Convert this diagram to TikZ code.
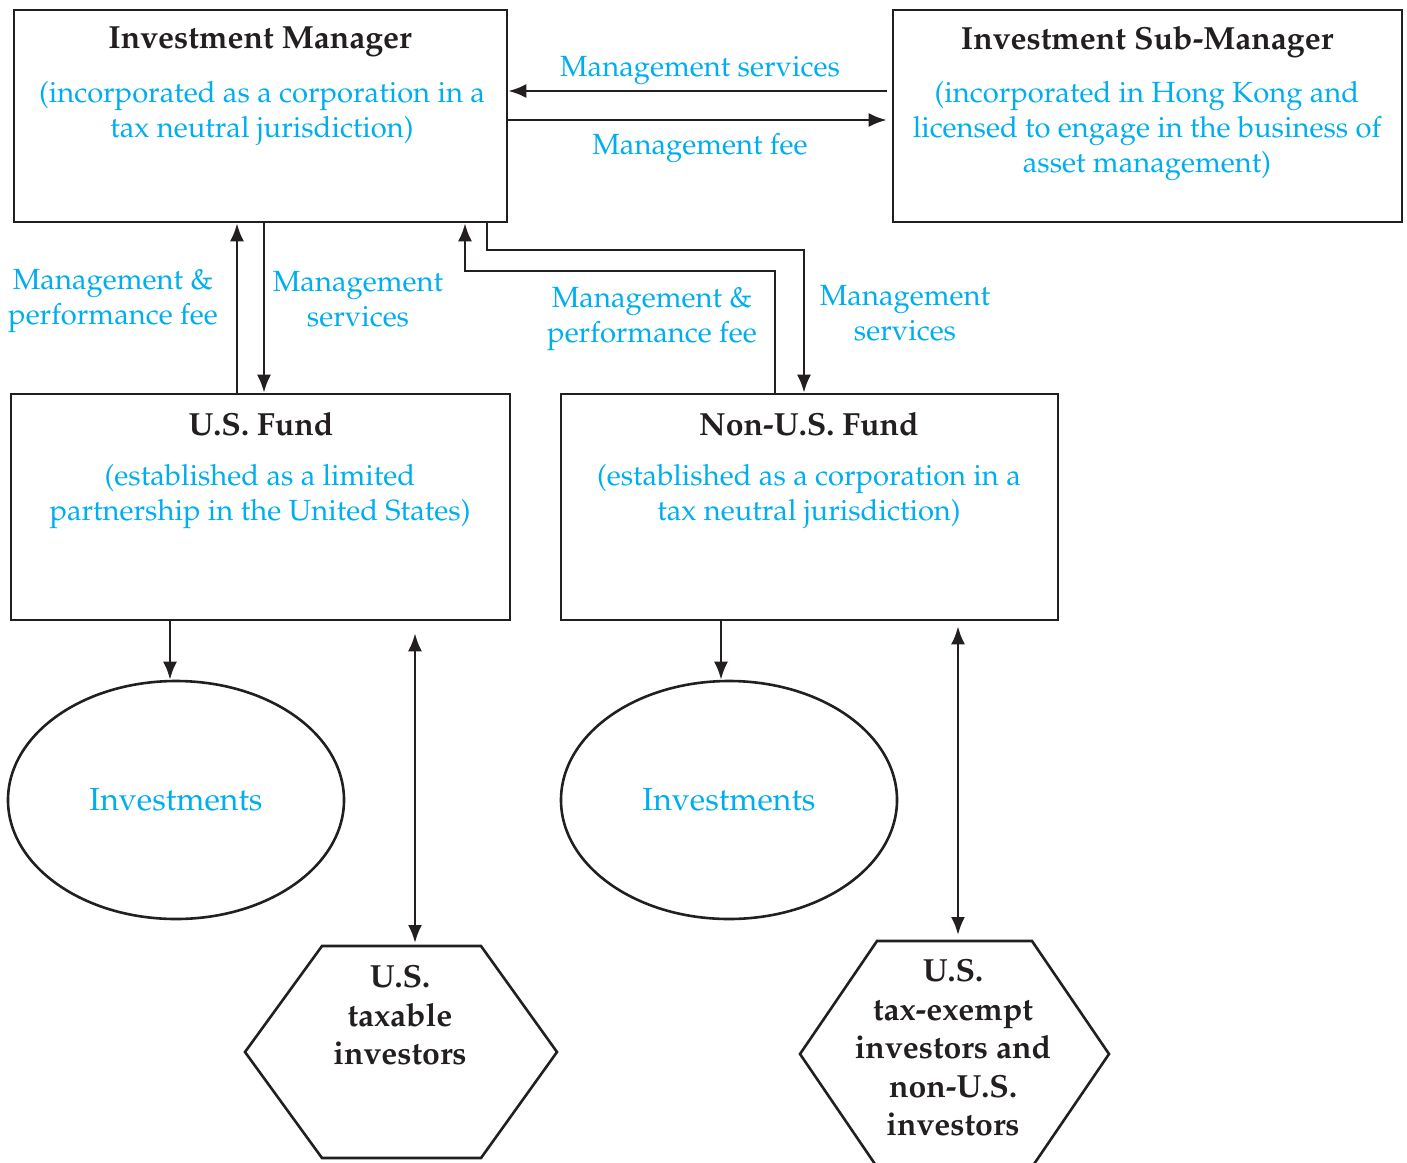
\documentclass[tikz,border=0pt]{standalone}
\usepackage[T1]{fontenc}
\usepackage{mathpazo}
\usetikzlibrary{arrows.meta,shapes.geometric}
\definecolor{lc}{HTML}{231F20}
\definecolor{bl}{HTML}{00AEEF}
\begin{document}
\begin{tikzpicture}[x=0.5pt,y=-0.5pt,
  box/.style={draw=lc,line width=1.3pt,inner sep=0pt,rectangle},
  oval/.style={draw=lc,line width=1.3pt,ellipse,inner sep=0pt,minimum width=168pt,minimum height=119pt,text=bl,font=\fontsize{16}{19}\selectfont},
  conn/.style={draw=lc,line width=1.3pt},
  arr/.style={conn,-{Latex[length=9pt,width=7pt]}},
  dbl/.style={conn,{Latex[length=9pt,width=7pt]}-{Latex[length=9pt,width=7pt]}},
  ttl/.style={font=\fontsize{16}{19}\selectfont\bfseries,text=lc,inner sep=0pt},
  lbl/.style={text=bl,align=center,font=\fontsize{14.6}{17.5}\selectfont,inner sep=0pt},
  hexl/.style={text=lc,align=center,font=\fontsize{16}{19.25}\selectfont\bfseries,inner sep=0pt}]
\useasboundingbox (0,0) rectangle (1407,1162);
\clip (0,0) rectangle (1407,1162);
% boxes
\node[box,minimum width=246.5pt,minimum height=106pt] (im) at (260.5,116) {};
\node[box,minimum width=254.5pt,minimum height=106pt] (ism) at (1147.5,116) {};
\node[box,minimum width=249.5pt,minimum height=113pt] (usf) at (260.5,507) {};
\node[box,minimum width=248.5pt,minimum height=113pt] (nusf) at (809.5,507) {};
% titles and descriptions
\node[ttl] (imt) at (260,42) {Investment Manager};
\node[lbl] (imd) at (262,113.5) {(incorporated as a corporation in a\\tax neutral jurisdiction)};
\node[ttl] (ismt) at (1147,42) {Investment Sub-Manager};
\node[lbl] (ismd) at (1147,131) {(incorporated in Hong Kong and\\licensed to engage in the business of\\asset management)};
\node[ttl] (usft) at (261,424) {U.S. Fund};
\node[lbl] (usfd) at (260,496.5) {(established as a limited\\partnership in the United States)};
\node[ttl] (nusft) at (809,424) {Non-U.S. Fund};
\node[lbl] (nusfd) at (809,496.5) {(established as a corporation in a\\tax neutral jurisdiction)};
% ellipses
\node[oval] (e1) at (176,800) {Investments};
\node[oval] (e2) at (729,800) {Investments};
% hexagons
\draw[conn,line join=miter] (322,946) -- (481,946) -- (557,1052) -- (481,1158) -- (322,1158) -- (245,1052) -- cycle;
\coordinate (h1t) at (401,946);
\node[hexl] (h1) at (400,1015) {U.S.\\taxable\\investors};
\draw[conn,line join=miter] (877,941) -- (1032,941) -- (1109,1054) -- (1032,1167) -- (877,1167) -- (800,1054) -- cycle;
\coordinate (h2t) at (955,941);
\node[hexl] (h2) at (953,1047.5) {U.S.\\tax-exempt\\investors and\\non-U.S.\\investors};
% helper coordinates
\coordinate (y91) at (0,91);
\coordinate (y120) at (0,120);
\coordinate (x237) at (237,0);
\coordinate (x264) at (264,0);
\coordinate (x775) at (775,0);
\coordinate (c1) at (465,271);
\coordinate (c2) at (487,250);
\coordinate (c3) at (804,250);
\coordinate (x170) at (170,0);
\coordinate (x721) at (721,0);
\coordinate (x415) at (415,0);
\coordinate (x958) at (958,0);
% connectors
\draw[arr,shorten <=2.5pt] (ism.west |- y91) -- (im.east |- y91);
\draw[arr,shorten >=2.5pt] (im.east |- y120) -- (ism.west |- y120);
\draw[arr] (usf.north -| x237) -- (im.south -| x237);
\draw[arr] (im.south -| x264) -- (usf.north -| x264);
\draw[arr] (nusf.north -| x775) |- (c1) -- (im.south -| c1);
\draw[arr] (im.south -| c2) -- (c2) -- (c3) -- (nusf.north -| c3);
\draw[arr] (usf.south -| x170) -- (e1.north -| x170);
\draw[arr] (nusf.south -| x721) -- (e2.north -| x721);
\draw[dbl,shorten <=6pt,shorten >=1.5pt] (usf.south -| x415) -- (h1t -| x415);
\draw[dbl,shorten <=2.5pt,shorten >=3pt] (nusf.south -| x958) -- (h2t -| x958);
% labels
\node[lbl] (l1) at (700,70) {Management services};
\node[lbl] (l2) at (700,148) {Management fee};
\node[lbl] (l3) at (113,300.5) {Management \&\\performance fee};
\node[lbl] (l4) at (358,299.5) {Management\\services};
\node[lbl] (l5) at (652,318.5) {Management \&\\performance fee};
\node[lbl] (l6) at (905,313.5) {Management\\services};
\end{tikzpicture}
\end{document}
